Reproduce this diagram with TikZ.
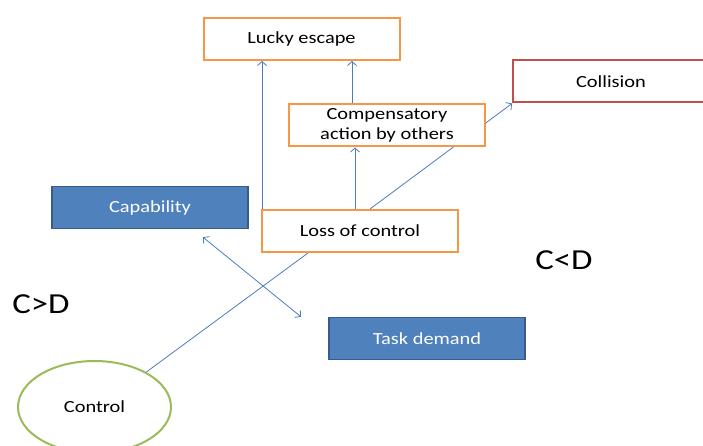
\documentclass[tikz,border=0pt]{standalone}
\usepackage{fontspec}
\setmainfont{Carlito}[FakeStretch=1.2]
\usetikzlibrary{arrows.meta,shapes.geometric}
\definecolor{boxorange}{HTML}{F79646}
\definecolor{boxblue}{HTML}{4F81BD}
\definecolor{boxblueedge}{HTML}{385D8A}
\definecolor{boxred}{HTML}{C0504D}
\definecolor{ringgreen}{HTML}{9BBB59}
\definecolor{linkblue}{HTML}{4A7EBB}
\pgfdeclarelayer{links}
\pgfsetlayers{links,main}
\tikzset{
  outcome/.style={draw=boxorange, line width=2pt, fill=white, minimum width=196pt,
    minimum height=42pt, inner sep=0pt, align=center, font=\fontsize{17}{20}\selectfont},
  hazard/.style={outcome, draw=boxred},
  factor/.style={draw=boxblueedge, line width=1.5pt, fill=boxblue, text=white,
    minimum width=196pt, minimum height=42pt, inner sep=0pt, font=\fontsize{17}{20}\selectfont},
  source/.style={ellipse, draw=ringgreen, line width=2pt, fill=white, minimum width=153pt,
    minimum height=92pt, inner sep=0pt, font=\fontsize{17}{20}\selectfont},
  link/.style={draw=linkblue, line width=0.8pt},
  arrow/.style={link, -{Straight Barb[length=4pt,width=9pt]}},
  twoway/.style={link, {Straight Barb[length=4pt,width=9pt]}-{Straight Barb[length=4pt,width=9pt]}},
  ratio/.style={font=\fontsize{29}{32}\selectfont}
}
\begin{document}
\begin{tikzpicture}[x=1pt,y=-1pt]
  \useasboundingbox (0,0) rectangle (703,446);
  \begin{scope}
    \clip (0,0) rectangle (703,446);
    \node[outcome] (lucky) at (301.5,39) {Lucky escape};
    \node[outcome] (comp) at (387,125.5) {Compensatory\\action by others};
    \node[hazard] (coll) at (611,81.5) {Collision};
    \node[outcome] (loss) at (360,231) {Loss of control};
    \node[factor] (cap) at (150,207.5) {Capability};
    \node[factor] (task) at (427,338.5) {Task demand};
    \node[source] (ctrl) at (94.5,407) {Control};
    \node[ratio] (cgd) at (41,304) {C>D};
    \node[ratio] (cld) at (564,260) {C<D};
  \end{scope}
  \begin{pgfonlayer}{links}
    \draw[arrow] ([xshift=1pt]loss.north west) -- ([xshift=1pt]loss.north west |- lucky.south);
    \draw[arrow] ([xshift=-35pt]comp.north) -- ([xshift=-35pt]comp.north |- lucky.south);
    \draw[arrow] ([xshift=-5pt]loss.north) -- ([xshift=-5pt]loss.north |- comp.south);
    \draw[arrow] ([xshift=10pt]loss.north) -- (coll.south west);
    \draw[link] (ctrl.34) -- ([xshift=-52pt]loss.south);
    \draw[twoway] ([xshift=53pt,yshift=-8pt]cap.south) -- ([xshift=-126pt]task.north);
  \end{pgfonlayer}
\end{tikzpicture}
\end{document}
